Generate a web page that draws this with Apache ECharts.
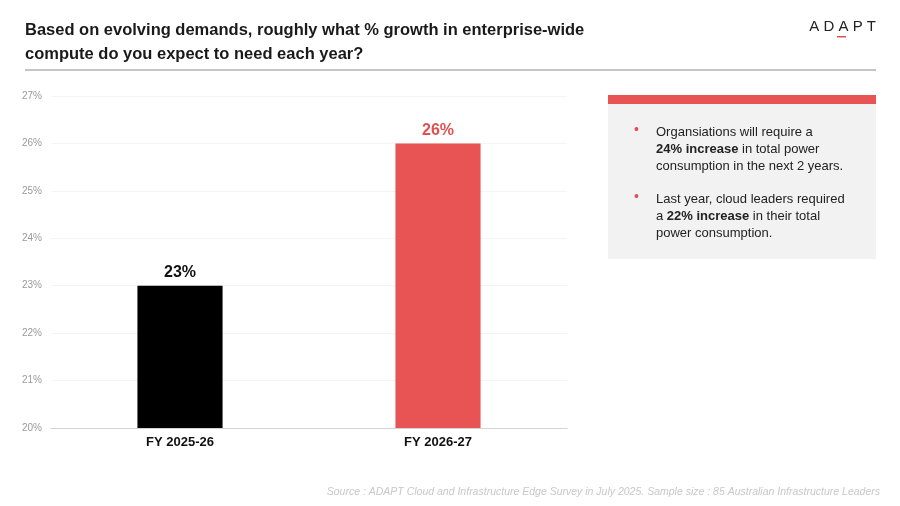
<!DOCTYPE html>
<html>
<head>
<meta charset="utf-8">
<script src="https://cdn.jsdelivr.net/npm/echarts@6/dist/echarts.min.js"></script>
<style>
html, body { margin: 0; padding: 0; background: #fff; }
#chart { width: 900px; height: 506px; }
</style>
</head>
<body>
<div id="chart"></div>
<script>
var categories = ['FY 2025-26', 'FY 2026-27'];
var values = [23, 26];
var barColors = ['#000000', '#e85353'];
var labelColors = ['#111111', '#e05050'];

var titleText = 'Based on evolving demands, roughly what % growth in enterprise-wide\ncompute do you expect to need each year?';
var sourceText = 'Source : ADAPT Cloud and Infrastructure Edge Survey in July 2025. Sample size : 85 Australian Infrastructure Leaders';

var myChart = echarts.init(document.getElementById('chart'));

var option = {
    backgroundColor: '#ffffff',
    animation: false,
    textStyle: { fontFamily: 'Arial, "Liberation Sans", sans-serif' },
    title: {
        text: titleText,
        left: 20,
        top: 13,
        textStyle: {
            fontSize: 16.5,
            fontWeight: 'bold',
            color: '#1a1a1a',
            lineHeight: 24
        }
    },
    grid: {
        left: 51,
        right: 333,
        top: 96,
        bottom: 78
    },
    xAxis: {
        type: 'category',
        data: categories,
        axisTick: { show: false },
        axisLine: { lineStyle: { color: '#d4d4d4' } },
        axisLabel: {
            color: '#111',
            fontSize: 13,
            fontWeight: 'bold',
            margin: 8
        }
    },
    yAxis: {
        type: 'value',
        min: 20,
        max: 27,
        interval: 1,
        axisLine: { show: false },
        axisTick: { show: false },
        axisLabel: {
            formatter: '{value}%',
            color: '#9a9a9a',
            fontSize: 10,
            margin: 9
        },
        splitLine: { lineStyle: { color: '#f4f4f4' } }
    },
    series: [{
        type: 'bar',
        barWidth: '33%',
        data: values.map(function (v, i) {
            return {
                value: v,
                itemStyle: { color: barColors[i] },
                label: { color: labelColors[i] }
            };
        }),
        label: {
            show: true,
            position: 'top',
            distance: 5,
            formatter: '{c}%',
            fontSize: 16,
            fontWeight: 'bold'
        }
    }],
    graphic: [
        // rule under the title
        {
            type: 'line',
            shape: { x1: 25, y1: 70, x2: 876, y2: 70 },
            style: { stroke: '#8c8c8c', lineWidth: 1.2 }
        },
        // logo
        {
            type: 'text',
            right: 24,
            top: 19,
            style: {
                text: 'A D A P T',
                fill: '#222',
                fontSize: 15,
                fontFamily: 'Arial, sans-serif'
            }
        },
        {
            type: 'rect',
            shape: { x: 837, y: 36, width: 9, height: 1.5 },
            style: { fill: '#e05050' }
        },
        // side panel
        {
            type: 'rect',
            shape: { x: 608, y: 104, width: 268, height: 155 },
            style: { fill: '#f2f2f2' }
        },
        {
            type: 'rect',
            shape: { x: 608, y: 95, width: 268, height: 9 },
            style: { fill: '#e85353' }
        },
        {
            type: 'text',
            x: 634,
            y: 123,
            style: { text: '•', fill: '#e05050', fontSize: 14 }
        },
        {
            type: 'text',
            x: 656,
            y: 124,
            style: {
                text: 'Organsiations will require a\n{b|24% increase} in total power\nconsumption in the next 2 years.',
                fill: '#222',
                fontSize: 13,
                lineHeight: 17,
                rich: { b: { fontWeight: 'bold', fontSize: 13, fill: '#222', lineHeight: 17 } }
            }
        },
        {
            type: 'text',
            x: 634,
            y: 190,
            style: { text: '•', fill: '#e05050', fontSize: 14 }
        },
        {
            type: 'text',
            x: 656,
            y: 191,
            style: {
                text: 'Last year, cloud leaders required\na {b|22% increase} in their total\npower consumption.',
                fill: '#222',
                fontSize: 13,
                lineHeight: 17,
                rich: { b: { fontWeight: 'bold', fontSize: 13, fill: '#222', lineHeight: 17 } }
            }
        },
        // source
        {
            type: 'text',
            right: 20,
            top: 487,
            style: {
                text: sourceText,
                fill: '#c8c8c8',
                fontSize: 10.5,
                fontStyle: 'italic'
            }
        }
    ]
};

myChart.setOption(option);
</script>
</body>
</html>
